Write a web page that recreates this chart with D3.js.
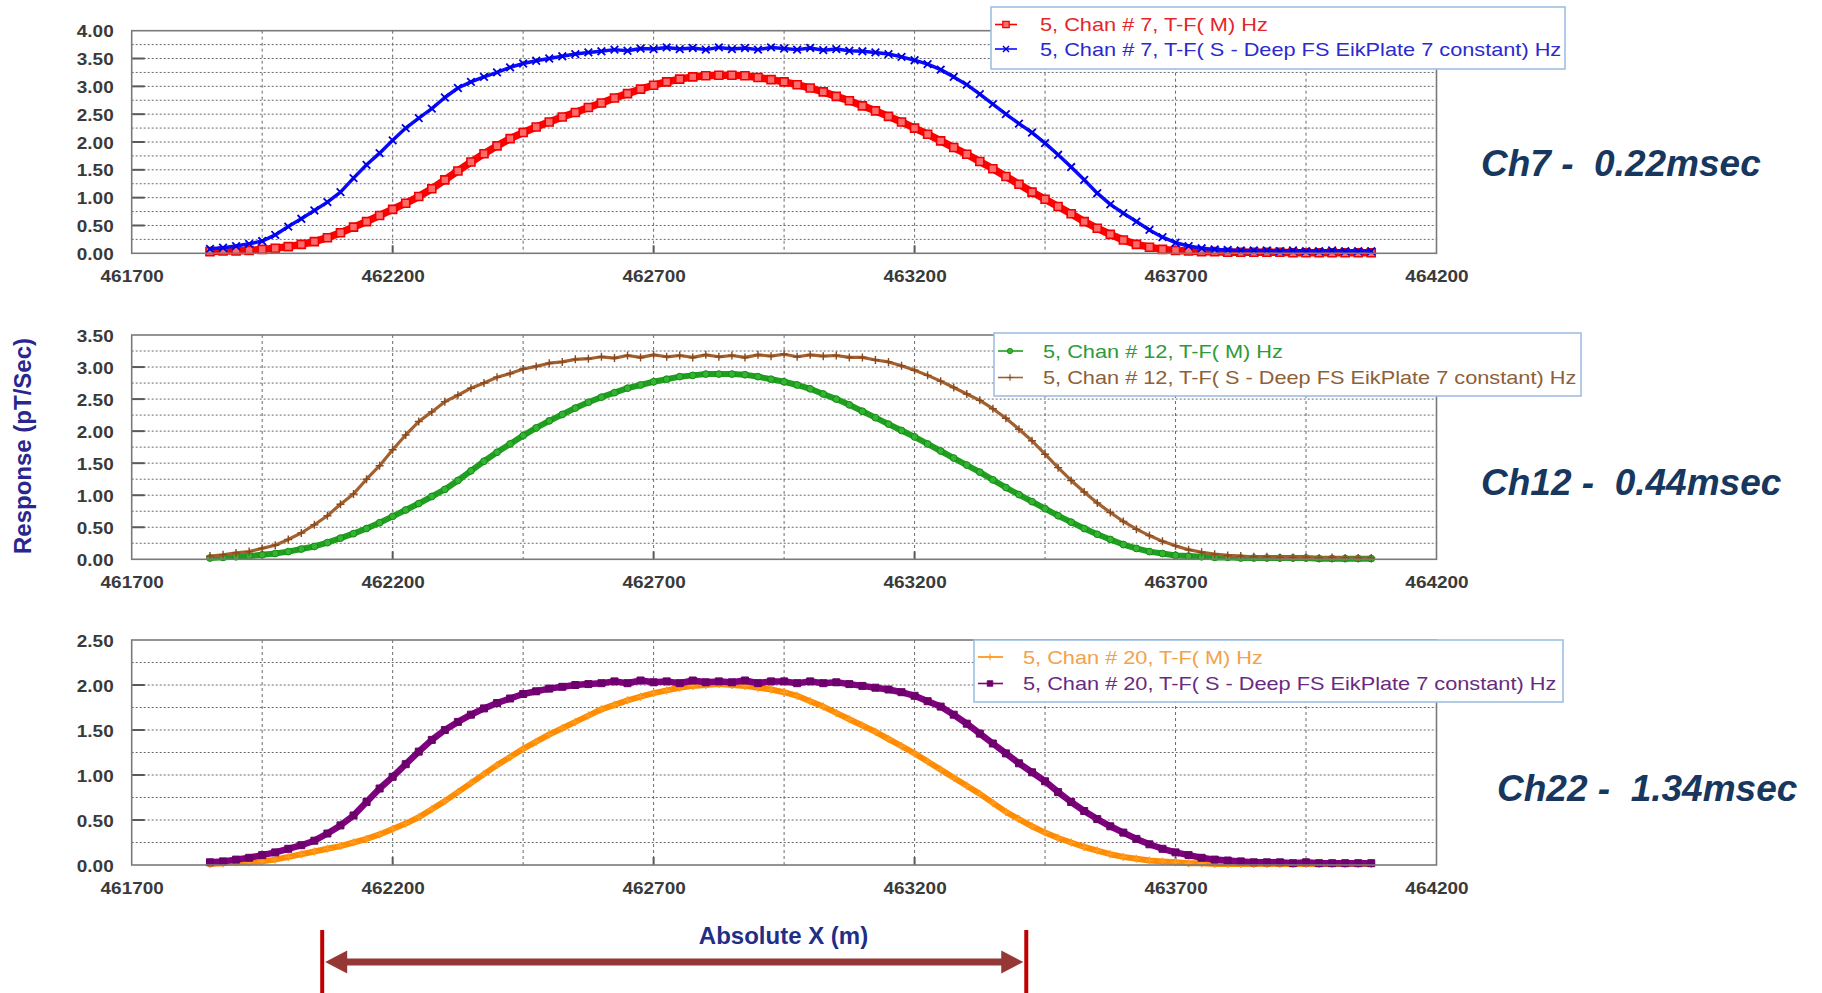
<!DOCTYPE html>
<html><head><meta charset="utf-8">
<script src="https://cdn.jsdelivr.net/npm/d3@7"></script>
<style>
html,body{margin:0;padding:0;background:#fff;}
svg{display:block;font-family:"Liberation Sans",Arial,sans-serif;}
</style></head><body>
<svg id="chart" width="1822" height="993"></svg>
<script>
// ---------------- DATA ----------------
const xs = [461850,461875,461900,461925,461950,461975,462000,462025,462050,462075,
462100,462125,462150,462175,462200,462225,462250,462275,462300,462325,
462350,462375,462400,462425,462450,462475,462500,462525,462550,462575,
462600,462625,462650,462675,462700,462725,462750,462775,462800,462825,
462850,462875,462900,462925,462950,462975,463000,463025,463050,463075,
463100,463125,463150,463175,463200,463225,463250,463275,463300,463325,
463350,463375,463400,463425,463450,463475,463500,463525,463550,463575,
463600,463625,463650,463675,463700,463725,463750,463775,463800,463825,
463850,463875,463900,463925,463950,463975,464000,464025,464050,464075];

const ch7M = [0.03,0.04,0.04,0.05,0.07,0.09,0.12,0.16,0.21,0.28,
0.37,0.47,0.57,0.68,0.79,0.90,1.02,1.16,1.32,1.48,
1.64,1.79,1.93,2.06,2.17,2.27,2.36,2.45,2.53,2.62,
2.70,2.79,2.87,2.95,3.02,3.08,3.13,3.17,3.19,3.20,
3.20,3.19,3.16,3.12,3.08,3.03,2.97,2.90,2.82,2.74,
2.65,2.56,2.46,2.36,2.25,2.14,2.02,1.90,1.78,1.65,
1.52,1.38,1.24,1.10,0.97,0.84,0.71,0.57,0.45,0.34,
0.24,0.16,0.11,0.07,0.05,0.04,0.03,0.03,0.02,0.02,
0.02,0.02,0.02,0.01,0.01,0.01,0.01,0.01,0.01,0.01];

const ch7S = [0.08,0.10,0.13,0.17,0.22,0.33,0.48,0.62,0.77,0.92,
1.10,1.35,1.59,1.80,2.03,2.25,2.43,2.60,2.80,2.97,
3.08,3.17,3.25,3.34,3.41,3.46,3.50,3.54,3.58,3.61,
3.63,3.66,3.64,3.68,3.67,3.70,3.67,3.69,3.66,3.70,
3.67,3.69,3.66,3.70,3.68,3.66,3.69,3.65,3.67,3.64,
3.63,3.61,3.58,3.53,3.47,3.40,3.30,3.17,3.03,2.86,
2.68,2.50,2.33,2.17,1.98,1.77,1.55,1.32,1.08,0.88,
0.72,0.57,0.42,0.29,0.19,0.13,0.09,0.07,0.06,0.05,
0.05,0.05,0.04,0.05,0.04,0.04,0.05,0.04,0.04,0.04];

const ch12M = [0.02,0.03,0.04,0.05,0.07,0.09,0.12,0.16,0.20,0.26,
0.33,0.40,0.48,0.57,0.67,0.77,0.87,0.98,1.09,1.23,
1.38,1.53,1.67,1.80,1.93,2.05,2.16,2.26,2.36,2.45,
2.53,2.60,2.67,2.72,2.77,2.81,2.85,2.87,2.89,2.89,
2.89,2.88,2.85,2.81,2.77,2.72,2.66,2.58,2.50,2.41,
2.31,2.21,2.11,2.01,1.91,1.80,1.69,1.58,1.47,1.36,
1.24,1.12,1.01,0.90,0.79,0.68,0.58,0.48,0.39,0.31,
0.23,0.17,0.12,0.09,0.06,0.05,0.04,0.03,0.03,0.02,
0.02,0.02,0.02,0.02,0.02,0.01,0.01,0.01,0.01,0.01];

const ch12S = [0.05,0.07,0.10,0.12,0.17,0.22,0.31,0.41,0.54,0.68,
0.86,1.02,1.25,1.46,1.71,1.94,2.15,2.30,2.46,2.56,
2.67,2.75,2.84,2.90,2.97,3.01,3.06,3.08,3.12,3.13,
3.16,3.14,3.18,3.15,3.19,3.16,3.18,3.15,3.19,3.16,
3.18,3.15,3.19,3.17,3.20,3.16,3.19,3.17,3.18,3.15,
3.15,3.11,3.08,3.02,2.95,2.87,2.78,2.68,2.58,2.48,
2.35,2.20,2.03,1.85,1.64,1.43,1.23,1.05,0.88,0.73,
0.59,0.47,0.37,0.28,0.21,0.15,0.11,0.08,0.06,0.05,
0.04,0.04,0.03,0.03,0.03,0.02,0.03,0.02,0.02,0.02];

const ch20M = [0.01,0.02,0.03,0.03,0.04,0.06,0.09,0.12,0.15,0.18,
0.21,0.25,0.29,0.34,0.40,0.46,0.53,0.62,0.71,0.81,
0.91,1.01,1.11,1.20,1.29,1.37,1.45,1.52,1.59,1.66,
1.73,1.78,1.83,1.87,1.91,1.94,1.97,1.99,2.00,2.01,
2.00,1.99,1.97,1.95,1.92,1.88,1.82,1.76,1.69,1.62,
1.55,1.48,1.40,1.32,1.24,1.15,1.06,0.97,0.88,0.79,
0.69,0.59,0.51,0.43,0.36,0.30,0.25,0.20,0.16,0.12,
0.09,0.07,0.05,0.04,0.03,0.02,0.02,0.01,0.01,0.01,
0.01,0.01,0.01,0.01,0.01,0.01,0.01,0.01,0.01,0.01];

const ch20S = [0.03,0.04,0.06,0.08,0.11,0.14,0.18,0.22,0.27,0.35,
0.44,0.55,0.70,0.85,0.98,1.12,1.26,1.39,1.50,1.59,
1.67,1.74,1.80,1.85,1.90,1.93,1.96,1.98,2.00,2.01,
2.02,2.04,2.02,2.05,2.03,2.04,2.02,2.05,2.03,2.04,
2.03,2.05,2.02,2.04,2.04,2.02,2.04,2.02,2.03,2.01,
1.99,1.97,1.95,1.92,1.88,1.82,1.76,1.67,1.57,1.46,
1.35,1.24,1.13,1.03,0.93,0.81,0.70,0.60,0.51,0.43,
0.36,0.29,0.23,0.18,0.14,0.11,0.08,0.06,0.05,0.04,
0.03,0.03,0.03,0.02,0.03,0.02,0.02,0.02,0.02,0.02];

const xDomain = [461700, 464200];
const xTicks = [461700,462200,462700,463200,463700,464200];
const xGrid = [461950,462200,462450,462700,462950,463200,463450,463700,463950];

const yTicks7 = [0,0.5,1,1.5,2,2.5,3,3.5,4];
const yGrid7 = [0.25,0.5,0.75,1,1.25,1.5,1.75,2,2.25,2.5,2.75,3,3.25,3.5,3.75];
const yTicks12 = [0,0.5,1,1.5,2,2.5,3,3.5];
const yGrid12 = [0.25,0.5,0.75,1,1.25,1.5,1.75,2,2.25,2.5,2.75,3,3.25];
const yTicks20 = [0,0.5,1,1.5,2,2.5];
const yGrid20 = [0.25,0.5,0.75,1,1.25,1.5,1.75,2,2.25];

const legend7 = ["5, Chan # 7, T-F( M) Hz", "5, Chan # 7, T-F( S - Deep FS EikPlate 7 constant) Hz"];
const legend12 = ["5, Chan # 12, T-F( M) Hz", "5, Chan # 12, T-F( S - Deep FS EikPlate 7 constant) Hz"];
const legend20 = ["5, Chan # 20, T-F( M) Hz", "5, Chan # 20, T-F( S - Deep FS EikPlate 7 constant) Hz"];

const notes = ["Ch7 -  0.22msec", "Ch12 -  0.44msec", "Ch22 -  1.34msec"];
const xTitle = "Absolute X (m)";
const yTitle = "Response (pT/Sec)";
const arrowSpan = [462065, 463414];

// ---------------- STYLES / LAYOUT ----------------
const MK = {
  sqOpen: "M-4,-4H4V4H-4Z",
  times: "M-3.8,-3.8L3.8,3.8M-3.8,3.8L3.8,-3.8",
  circle: "M3.4,0A3.4,3.4 0 1,1 -3.4,0A3.4,3.4 0 1,1 3.4,0Z",
  plus: "M-4,0H4M0,-4V4",
  sqFill: "M-3.5,-3.5H3.5V3.5H-3.5Z"
};
const styleRed    = {color:"#ff0000", lw:7.5, mk:"sqOpen", fill:"#ff6a6a", stroke:"#f00000", sw:1.6, text:"#e4262b"};
const styleBlue   = {color:"#0a0aff", lw:3.5, mk:"times",  fill:"none",    stroke:"#0000e0", sw:1.8, text:"#2a2ad0"};
const styleGreen  = {color:"#1f9e1f", lw:6,   mk:"circle", fill:"#33b533", stroke:"#168c16", sw:1,   text:"#2e9a3a"};
const styleBrown  = {color:"#a3602f", lw:3.2, mk:"plus",   fill:"none",    stroke:"#8a4a1e", sw:1.4, text:"#8d6038"};
const styleOrange = {color:"#ff8c00", lw:6,   mk:"plus",   fill:"none",    stroke:"#ff9d24", sw:1.5, text:"#f2a24a"};
const stylePurple = {color:"#800080", lw:6.5, mk:"sqFill", fill:"#6c006c", stroke:"#6c006c", sw:1,   text:"#6a2a80"};

const X0 = 131.7, X1 = 1436.5;
const panels = [
  {top:30.7, bottom:253.3, ymax:4, yTicks:yTicks7, yGrid:yGrid7,
   series:[{values:ch7M, st:styleRed},{values:ch7S, st:styleBlue}],
   legend:{texts:legend7, bx:991, by:7, bw:574, bh:62, lx0:995, lx1:1017, mx:1006, tx:1040, ly:[24.5,49]},
   note:{text:notes[0], x:1481, y:176}},
  {top:335, bottom:559.3, ymax:3.5, yTicks:yTicks12, yGrid:yGrid12,
   series:[{values:ch12M, st:styleGreen},{values:ch12S, st:styleBrown}],
   legend:{texts:legend12, bx:994, by:333, bw:587, bh:63, lx0:998, lx1:1023, mx:1010, tx:1043, ly:[351,377.5]},
   note:{text:notes[1], x:1481, y:495}},
  {top:640, bottom:865, ymax:2.5, yTicks:yTicks20, yGrid:yGrid20,
   series:[{values:ch20M, st:styleOrange},{values:ch20S, st:stylePurple}],
   legend:{texts:legend20, bx:974, by:640, bw:589, bh:62, lx0:978, lx1:1003, mx:990, tx:1023, ly:[657,683.5]},
   note:{text:notes[2], x:1497, y:801}}
];

// ---------------- DRAW ----------------
const svg = d3.select("#chart");
const x = d3.scaleLinear().domain(xDomain).range([X0, X1]);

panels.forEach(p => {
  const y = d3.scaleLinear().domain([0, p.ymax]).range([p.bottom, p.top]);
  const g = svg.append("g");

  g.append("rect").attr("x",X0).attr("y",p.top).attr("width",X1-X0).attr("height",p.bottom-p.top).attr("fill","#fff");

  g.append("g").selectAll("line").data(p.yGrid).join("line")
    .attr("x1",X0).attr("x2",X1).attr("y1",d=>y(d)).attr("y2",d=>y(d))
    .attr("stroke","#6a6a6a").attr("stroke-width",1).attr("stroke-dasharray","2,2");
  g.append("g").selectAll("line").data(xGrid).join("line")
    .attr("x1",d=>x(d)).attr("x2",d=>x(d)).attr("y1",p.top).attr("y2",p.bottom)
    .attr("stroke","#6a6a6a").attr("stroke-width",1).attr("stroke-dasharray","3,3");

  // major tick marks inside plot
  g.append("g").selectAll("line").data(p.yTicks.filter(d=>d>0 && d<p.ymax)).join("line")
    .attr("x1",X0).attr("x2",X0+13).attr("y1",d=>y(d)).attr("y2",d=>y(d))
    .attr("stroke","#5a5a5a").attr("stroke-width",2);
  g.append("g").selectAll("line").data(xTicks.filter(d=>d>xDomain[0] && d<xDomain[1])).join("line")
    .attr("x1",d=>x(d)).attr("x2",d=>x(d)).attr("y1",p.bottom).attr("y2",p.bottom-8)
    .attr("stroke","#5a5a5a").attr("stroke-width",2);

  // series
  p.series.forEach(s => {
    const line = d3.line().x((d,i)=>x(xs[i])).y(d=>y(d));
    g.append("path").datum(s.values).attr("d",line)
      .attr("fill","none").attr("stroke",s.st.color).attr("stroke-width",s.st.lw)
      .attr("stroke-linejoin","round").attr("stroke-linecap","round");
    g.append("g").selectAll("path").data(s.values).join("path")
      .attr("d",MK[s.st.mk])
      .attr("transform",(d,i)=>`translate(${x(xs[i])},${y(d)})`)
      .attr("fill",s.st.fill).attr("stroke",s.st.stroke).attr("stroke-width",s.st.sw);
  });

  // border
  g.append("rect").attr("x",X0).attr("y",p.top).attr("width",X1-X0).attr("height",p.bottom-p.top)
    .attr("fill","none").attr("stroke","#7a7a7a").attr("stroke-width",1.6);

  // axes
  const ya = svg.append("g").attr("transform",`translate(${X0},0)`)
    .call(d3.axisLeft(y).tickValues(p.yTicks).tickFormat(d3.format(".2f")).tickSize(0));
  ya.select(".domain").remove();
  ya.selectAll("text").attr("x",0).attr("dy",null)
    .attr("transform","translate(-18,6) scale(1.15,1)")
    .attr("text-anchor","end")
    .style("font-size","16.5px").style("font-weight","bold").style("fill","#3a3a3a")
    .style("font-family",'"Liberation Sans",Arial,sans-serif');

  const xa = svg.append("g").attr("transform",`translate(0,${p.bottom})`)
    .call(d3.axisBottom(x).tickValues(xTicks).tickFormat(d3.format("d")).tickSize(0));
  xa.select(".domain").remove();
  xa.selectAll("text").attr("y",0).attr("dy",null)
    .attr("transform","translate(0,28.5) scale(1.15,1)")
    .attr("text-anchor","middle")
    .style("font-size","16.5px").style("font-weight","bold").style("fill","#3a3a3a")
    .style("font-family",'"Liberation Sans",Arial,sans-serif');

  // legend
  const L = p.legend;
  const lg = svg.append("g");
  lg.append("rect").attr("x",L.bx).attr("y",L.by).attr("width",L.bw).attr("height",L.bh)
    .attr("fill","#fff").attr("stroke","#9fc0e3").attr("stroke-width",1.6);
  p.series.forEach((s,k) => {
    const ly = L.ly[k];
    lg.append("line").attr("x1",L.lx0).attr("x2",L.lx1).attr("y1",ly).attr("y2",ly)
      .attr("stroke",s.st.color).attr("stroke-width",1.6);
    lg.append("path").attr("d",MK[s.st.mk]).attr("transform",`translate(${L.mx},${ly}) scale(0.8)`)
      .attr("fill",s.st.fill).attr("stroke",s.st.stroke).attr("stroke-width",s.st.sw);
    lg.append("text").attr("transform",`translate(${L.tx},${ly+6.5}) scale(1.175,1)`)
      .style("font-size","18.5px").style("fill",s.st.text)
      .text(L.texts[k]);
  });

  // note
  svg.append("text").attr("x",p.note.x).attr("y",p.note.y)
    .style("font-size","37px").style("font-weight","bold").style("font-style","italic")
    .style("fill","#17375e").style("white-space","pre")
    .text(p.note.text);
});

// axis titles
svg.append("text").attr("transform","translate(31,446) rotate(-90)")
  .attr("text-anchor","middle")
  .style("font-size","24px").style("font-weight","bold").style("fill","#2a2590")
  .text(yTitle);
svg.append("text").attr("x",783.5).attr("y",943.5).attr("text-anchor","middle")
  .style("font-size","24px").style("font-weight","bold").style("fill","#1f2f85")
  .text(xTitle);

// span arrow
const ax0 = x(arrowSpan[0]), ax1 = x(arrowSpan[1]), ay = 962;
svg.append("line").attr("x1",ax0+20).attr("x2",ax1-20).attr("y1",ay).attr("y2",ay)
  .attr("stroke","#953735").attr("stroke-width",7);
svg.append("path").attr("d",`M${ax0+3},${ay}L${ax0+25},${ay-11.5}L${ax0+25},${ay+11.5}Z`).attr("fill","#953735");
svg.append("path").attr("d",`M${ax1-3},${ay}L${ax1-25},${ay-11.5}L${ax1-25},${ay+11.5}Z`).attr("fill","#953735");
[ax0, ax1].forEach(v => svg.append("line").attr("x1",v).attr("x2",v).attr("y1",930).attr("y2",993)
  .attr("stroke","#c00000").attr("stroke-width",4));
</script>
</body></html>
